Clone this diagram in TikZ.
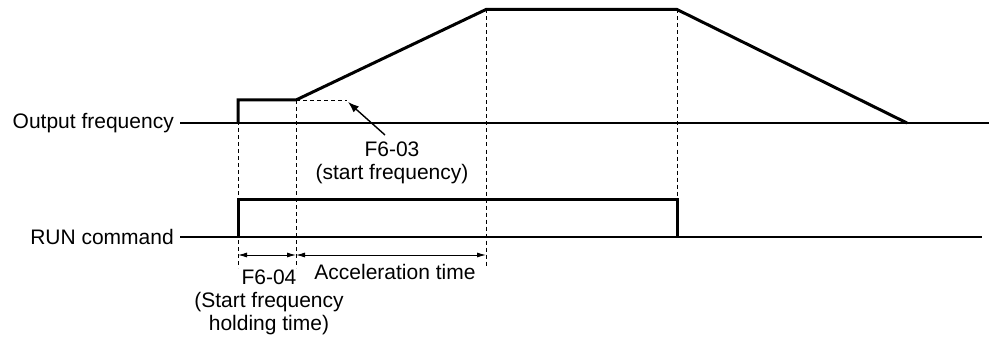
\documentclass[tikz,border=0pt]{standalone}
\usepackage{fontspec}
\setmainfont{Liberation Sans}
\usetikzlibrary{arrows.meta}

\begin{document}
\begin{tikzpicture}[x=1pt,y=-1pt,
  font=\fontsize{21}{23}\selectfont,
  axis/.style={line width=1.4pt},
  wave/.style={line width=3pt,line join=miter},
  guide/.style={line width=0.9pt,dash pattern=on 4pt off 3pt},
  span/.style={line width=1pt,{Latex[length=9pt,width=5pt]}-{Latex[length=9pt,width=5pt]}},
  pointer/.style={line width=1.4pt,-{Latex[length=11pt,width=8pt]}},
  lbl/.style={inner sep=0pt,inner xsep=6pt}]
\path[use as bounding box] (0,0) rectangle (989,345);
% signal names and base lines
\node[lbl,anchor=east] (outlbl) at (180,123) {Output frequency};
\node[lbl,anchor=east] (runlbl) at (180,237) {RUN command};
\coordinate (outend) at (989,123);
\coordinate (runend) at (982,237);
\draw[axis] (outlbl.east) -- (outend);
\draw[axis] (runlbl.east) -- (runend);
% output frequency
\coordinate (hold) at (238,100);
\coordinate (accel) at (296,100);
\coordinate (top) at (486,9.5);
\coordinate (decel) at (677,9.5);
\coordinate (stop) at (907,123);
\draw[wave] (238,123) -- (hold) -- (accel) -- (top) -- (decel) -- (stop);
% run command
\coordinate (runon) at (238,199);
\coordinate (runoff) at (677,199);
\draw[wave] (238,237) -- (runon) -- (runoff) -- (677,237);
% guides
\coordinate (sf) at (347,100);
\draw[guide] (accel) -- (sf);
\draw[guide] (hold) -- (238,268);
\draw[guide] (accel) -- (296,268);
\draw[guide] (top) -- (486,268);
\draw[guide] (decel) -- (runoff);
% spans
\coordinate (d0) at (238,255);
\coordinate (d1) at (296,255);
\coordinate (d2) at (486,255);
\draw[span] (d0) -- (d1);
\draw[span] (d1) -- (d2);
% notes
\node[align=center,inner sep=0pt] (f603) at (392,163) {F6-03\\(start frequency)};
\coordinate (tail) at (385,135);
\draw[pointer] (tail) -- (348,102);
\node[inner sep=0pt] (acc) at (395,272) {Acceleration time};
\node[align=center,inner sep=0pt] (f604) at (269,302) {F6-04\\(Start frequency\\holding time)};
\end{tikzpicture}
\end{document}
